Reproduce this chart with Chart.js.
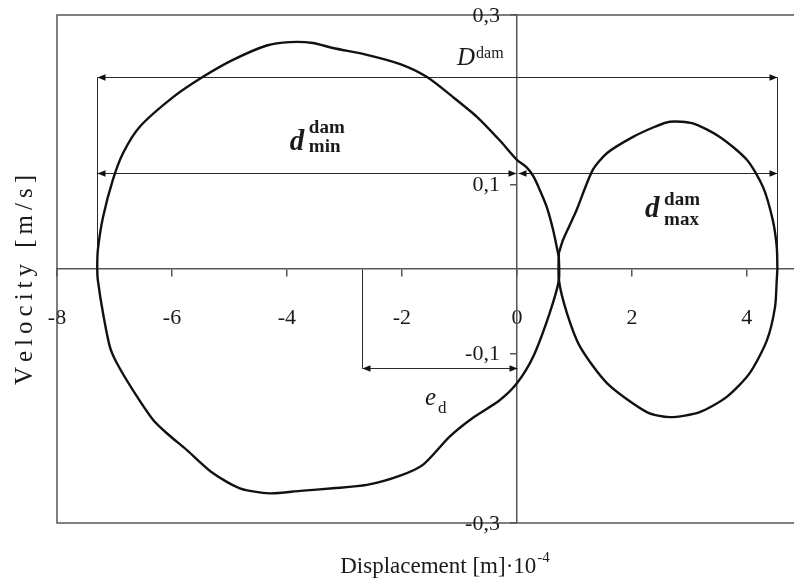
<!DOCTYPE html>
<html>
<head>
<meta charset="utf-8">
<script src="https://cdn.jsdelivr.net/npm/chart.js@4/dist/chart.umd.min.js"></script>
<style>
  html, body { margin: 0; padding: 0; background: #fff; overflow: hidden; }
  #wrap { width: 794px; height: 585px; position: relative; }
</style>
</head>
<body>
<div id="wrap"><canvas id="chart" width="794" height="585"></canvas></div>
<script>
// Tick values on both axes
const xTicks = [-8, -6, -4, -2, 0, 2, 4];
const yTicks = [-0.3, -0.1, 0.1, 0.3];

// Large trajectory loop (displacement ×1e-4 m, velocity m/s)
const bigLoopX = [0.73, 0.63, 0.52, 0.40, 0.29, 0.17, 0.0, -0.30, -0.70, -1.11, -1.57, -2.03, -2.61, -3.20, -3.55, -3.95, -4.35, -4.94, -5.46, -5.98, -6.56, -6.85, -7.03, -7.20, -7.29, -7.30, -7.29, -7.20, -7.08, -6.96, -6.68, -6.33, -6.09, -5.74, -5.29, -4.82, -4.30, -3.77, -3.20, -2.61, -2.03, -1.63, -1.17, -0.77, -0.30, 0.0, 0.28, 0.57, 0.73, 0.73];
const bigLoopY = [0.014, 0.046, 0.073, 0.093, 0.109, 0.120, 0.129, 0.152, 0.180, 0.203, 0.227, 0.242, 0.253, 0.261, 0.267, 0.268, 0.264, 0.247, 0.227, 0.203, 0.168, 0.137, 0.105, 0.061, 0.022, 0.0, -0.013, -0.052, -0.092, -0.111, -0.143, -0.178, -0.194, -0.214, -0.241, -0.259, -0.265, -0.262, -0.259, -0.255, -0.244, -0.231, -0.198, -0.176, -0.155, -0.135, -0.104, -0.052, -0.013, 0.014];

// Small trajectory loop
const smallLoopX = [0.73, 0.80, 0.92, 1.04, 1.32, 1.57, 2.02, 2.40, 2.66, 3.06, 3.53, 4.00, 4.28, 4.45, 4.52, 4.53, 4.52, 4.49, 4.35, 4.05, 3.65, 3.18, 2.66, 2.26, 1.57, 1.10, 0.87, 0.73, 0.73];
const smallLoopY = [0.019, 0.034, 0.052, 0.070, 0.117, 0.137, 0.156, 0.168, 0.174, 0.172, 0.156, 0.129, 0.097, 0.058, 0.026, 0.0, -0.013, -0.045, -0.084, -0.123, -0.151, -0.169, -0.175, -0.169, -0.135, -0.092, -0.052, -0.013, 0.019];

// Dimension markers (data units)
const spanLeft = -7.3;      // left extreme of the large loop
const spanRight = 4.53;     // right extreme of the small loop
const spanLevel = 0.227;    // height of the D arrow
const splitLevel = 0.113;   // height of the d_min / d_max arrows
const eccX = -2.7;          // e_d start
const eccLevel = -0.117;    // height of the e_d arrow

const toPoints = (xs, ys) => xs.map((v, i) => ({ x: v, y: ys[i] }));
const fmt = v => String(Math.round(v * 10) / 10).replace('.', ',');

const AXIS_COLOR = '#565656';
const SERIF = '"Liberation Serif", "Times New Roman", serif';

function arrowHead(ctx, tipX, tipY, dir) {
  ctx.beginPath();
  ctx.moveTo(tipX, tipY);
  ctx.lineTo(tipX - dir * 8, tipY - 3.2);
  ctx.lineTo(tipX - dir * 8, tipY + 3.2);
  ctx.closePath();
  ctx.fill();
}

function seg(ctx, x1, y1, x2, y2) {
  ctx.beginPath();
  ctx.moveTo(x1, y1);
  ctx.lineTo(x2, y2);
  ctx.stroke();
}

const decorations = {
  id: 'decorations',
  beforeDatasetsDraw(chart) {
    const { ctx, chartArea: a, scales: { x, y } } = chart;
    const X = v => Math.round(x.getPixelForValue(v)) + 0.5;
    const Y = v => Math.round(y.getPixelForValue(v)) + 0.5;
    ctx.save();
    // plot frame (left, top, bottom)
    ctx.strokeStyle = AXIS_COLOR;
    ctx.lineWidth = 1.5;
    ctx.beginPath();
    ctx.moveTo(a.right + 2, a.top);
    ctx.lineTo(a.left, a.top);
    ctx.lineTo(a.left, a.bottom);
    ctx.lineTo(a.right + 2, a.bottom);
    ctx.stroke();

    // dimension lines
    ctx.strokeStyle = '#2a2a2a';
    ctx.fillStyle = '#111';
    ctx.lineWidth = 1;
    seg(ctx, X(spanLeft), Y(0), X(spanLeft), Y(spanLevel));
    seg(ctx, X(spanRight), Y(0), X(spanRight), Y(spanLevel));
    // overall span D
    seg(ctx, X(spanLeft), Y(spanLevel), X(spanRight), Y(spanLevel));
    arrowHead(ctx, X(spanLeft), Y(spanLevel), -1);
    arrowHead(ctx, X(spanRight), Y(spanLevel), 1);
    // d_min
    seg(ctx, X(spanLeft), Y(splitLevel), X(0) - 1, Y(splitLevel));
    arrowHead(ctx, X(spanLeft), Y(splitLevel), -1);
    arrowHead(ctx, X(0) - 1, Y(splitLevel), 1);
    // d_max
    seg(ctx, X(0) + 1, Y(splitLevel), X(spanRight), Y(splitLevel));
    arrowHead(ctx, X(0) + 1, Y(splitLevel), -1);
    arrowHead(ctx, X(spanRight), Y(splitLevel), 1);
    // eccentricity e_d
    seg(ctx, X(eccX), Y(0), X(eccX), Y(eccLevel));
    seg(ctx, X(eccX), Y(eccLevel), X(0), Y(eccLevel));
    arrowHead(ctx, X(eccX), Y(eccLevel), -1);
    arrowHead(ctx, X(0), Y(eccLevel), 1);
    ctx.restore();
  },
  afterDraw(chart) {
    const { ctx, chartArea: a, scales: { x, y } } = chart;
    const X = v => x.getPixelForValue(v);
    const Y = v => y.getPixelForValue(v);
    ctx.save();
    ctx.fillStyle = '#1a1a1a';

    // velocity tick labels, right-aligned beside the vertical axis
    ctx.font = '22px ' + SERIF;
    ctx.textAlign = 'right';
    ctx.textBaseline = 'middle';
    for (const t of y.ticks) {
      ctx.fillText(fmt(t.value), X(0) - 17, Y(t.value) + 1);
    }

    ctx.textBaseline = 'alphabetic';
    ctx.textAlign = 'left';

    // D^dam
    let bx = X(-1.04), by = Y(0.241);
    ctx.font = 'italic 25px ' + SERIF;
    ctx.fillText('D', bx, by);
    ctx.font = '16px ' + SERIF;
    ctx.fillText('dam', bx + 19, by - 7);

    // d^dam_min
    bx = X(-3.95); by = Y(0.1405);
    ctx.font = 'italic bold 29px ' + SERIF;
    ctx.fillText('d', bx, by);
    ctx.font = 'bold 19px ' + SERIF;
    ctx.fillText('dam', bx + 19, by - 17);
    ctx.fillText('min', bx + 19, by + 2);

    // d^dam_max
    bx = X(2.23); by = Y(0.061);
    ctx.font = 'italic bold 29px ' + SERIF;
    ctx.fillText('d', bx, by);
    ctx.font = 'bold 19px ' + SERIF;
    ctx.fillText('dam', bx + 19, by - 12);
    ctx.fillText('max', bx + 19, by + 8);

    // e_d
    bx = X(-1.6); by = Y(-0.161);
    ctx.font = 'italic 25px ' + SERIF;
    ctx.fillText('e', bx, by);
    ctx.font = '17px ' + SERIF;
    ctx.fillText('d', bx + 13, by + 8);

    // x axis title with exponent
    const main = 'Displacement [m]\u00b710';
    ctx.font = '23px ' + SERIF;
    const wMain = ctx.measureText(main).width;
    ctx.font = '15px ' + SERIF;
    const wExp = ctx.measureText('-4').width;
    const tx = (a.left + a.right) / 2 + 19 - (wMain + wExp) / 2;
    const ty = 573;
    ctx.font = '23px ' + SERIF;
    ctx.fillText(main, tx, ty);
    ctx.font = '15px ' + SERIF;
    ctx.fillText('-4', tx + wMain + 1, ty - 11);

    // y axis title, letter-spaced and rotated
    const ytitle = 'Velocity [m/s]';
    const spacing = 5;
    ctx.font = '25px ' + SERIF;
    let total = 0;
    for (const ch of ytitle) total += ctx.measureText(ch).width + spacing;
    total -= spacing;
    ctx.translate(32, 280);
    ctx.rotate(-Math.PI / 2);
    let cx = -total / 2;
    for (const ch of ytitle) {
      ctx.fillText(ch, cx, 0);
      cx += ctx.measureText(ch).width + spacing;
    }
    ctx.restore();
  }
};

new Chart(document.getElementById('chart'), {
  type: 'scatter',
  data: {
    datasets: [
      { data: toPoints(bigLoopX, bigLoopY), showLine: true, borderColor: '#111', borderWidth: 2.4, pointRadius: 0, tension: 0.25, fill: false },
      { data: toPoints(smallLoopX, smallLoopY), showLine: true, borderColor: '#111', borderWidth: 2.4, pointRadius: 0, tension: 0.25, fill: false }
    ]
  },
  options: {
    responsive: false,
    devicePixelRatio: 1,
    animation: false,
    layout: { padding: { left: 57, right: 0, top: 15, bottom: 62 } },
    plugins: { legend: { display: false }, tooltip: { enabled: false } },
    scales: {
      x: {
        type: 'linear',
        min: -8,
        max: 4.82,
        position: { y: 0 },
        afterBuildTicks: s => { s.ticks = xTicks.map(v => ({ value: v })); },
        ticks: {
          color: '#1a1a1a',
          font: { family: SERIF, size: 22 },
          padding: 29,
          maxRotation: 0,
          autoSkip: false,
          callback: v => fmt(v)
        },
        grid: { display: true, drawOnChartArea: false, drawTicks: true, tickLength: 7, color: AXIS_COLOR, lineWidth: 1.5 },
        border: { display: true, color: AXIS_COLOR, width: 1.5 }
      },
      y: {
        type: 'linear',
        min: -0.3,
        max: 0.3,
        position: { x: 0 },
        afterBuildTicks: s => { s.ticks = yTicks.map(v => ({ value: v })); },
        ticks: { display: false },
        grid: { display: true, drawOnChartArea: false, drawTicks: true, tickLength: 6, color: AXIS_COLOR, lineWidth: 1.5 },
        border: { display: true, color: AXIS_COLOR, width: 1.5 }
      }
    }
  },
  plugins: [decorations]
});
</script>
</body>
</html>
